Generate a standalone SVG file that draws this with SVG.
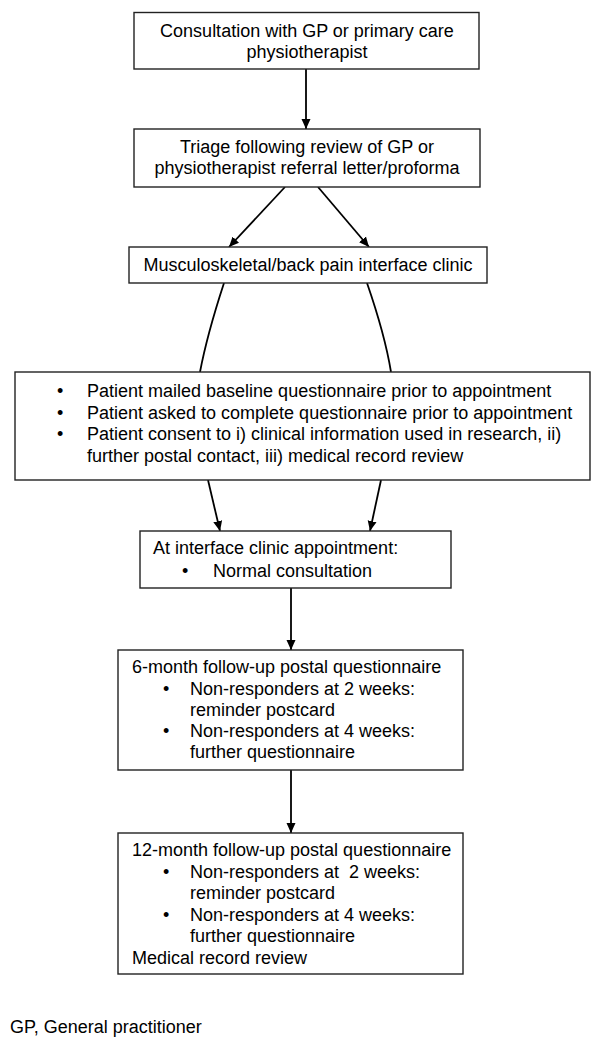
<svg xmlns="http://www.w3.org/2000/svg" width="600" height="1046" viewBox="0 0 600 1046">
<defs>
<marker id="ah" viewBox="0 0 10 10" refX="10" refY="5" markerWidth="10" markerHeight="10" markerUnits="userSpaceOnUse" orient="auto">
<path d="M0,0.5 L10,5 L0,9.5 Z" fill="#000"/>
</marker>
<style>
.box{fill:#fff;stroke:#222;stroke-width:1.4}
.t{font-family:"Liberation Sans",Arial,sans-serif;font-size:18px;fill:#000}
.c{text-anchor:middle}
.ln{fill:none;stroke:#000;stroke-width:1.8}
.arr{fill:none;stroke:#000;stroke-width:1.8;marker-end:url(#ah)}
</style>
</defs>
<rect width="600" height="1046" fill="#fff"/>
<g id="connectors">
<line class="arr" x1="306" y1="69" x2="306" y2="129"/>
<line class="arr" x1="285" y1="187" x2="229" y2="247"/>
<line class="arr" x1="318" y1="187" x2="369" y2="247"/>
<path class="ln" d="M224,283 Q207,335 200,372"/>
<path class="ln" d="M367,283 Q385,335 391,372"/>
<line class="arr" x1="208" y1="480" x2="220" y2="531"/>
<line class="arr" x1="381" y1="480" x2="370" y2="531"/>
<line class="arr" x1="291" y1="588" x2="291" y2="650"/>
<line class="arr" x1="291" y1="770" x2="291" y2="833"/>
</g>
<g id="n1">
<rect class="box" x="134" y="12.5" width="345" height="56.5"/>
<text class="t c" x="307" y="37">Consultation with GP or primary care</text>
<text class="t c" x="307" y="58">physiotherapist</text>
</g>
<g id="n2">
<rect class="box" x="134" y="129" width="346" height="58"/>
<text class="t c" x="307" y="153">Triage following review of GP or</text>
<text class="t c" x="307" y="174">physiotherapist referral letter/proforma</text>
</g>
<g id="n3">
<rect class="box" x="129" y="247" width="358" height="36"/>
<text class="t c" x="308" y="271">Musculoskeletal/back pain interface clinic</text>
</g>
<g id="n4">
<rect class="box" x="15" y="372" width="575" height="108"/>
<text class="t" x="57" y="397">•</text>
<text class="t" x="87" y="397">Patient mailed baseline questionnaire prior to appointment</text>
<text class="t" x="57" y="418.5">•</text>
<text class="t" x="87" y="418.5">Patient asked to complete questionnaire prior to appointment</text>
<text class="t" x="57" y="440">•</text>
<text class="t" x="87" y="440">Patient consent to i) clinical information used in research, ii)</text>
<text class="t" x="87" y="461.5">further postal contact, iii) medical record review</text>
</g>
<g id="n5">
<rect class="box" x="140" y="531" width="311" height="57"/>
<text class="t" x="153" y="554">At interface clinic appointment:</text>
<text class="t" x="182" y="577">•</text>
<text class="t" x="213" y="577">Normal consultation</text>
</g>
<g id="n6">
<rect class="box" x="118" y="650" width="345" height="120"/>
<text class="t" x="132" y="673">6-month follow-up postal questionnaire</text>
<text class="t" x="163" y="694.5">•</text>
<text class="t" x="190" y="694.5">Non-responders at 2 weeks:</text>
<text class="t" x="190" y="715.5">reminder postcard</text>
<text class="t" x="163" y="737">•</text>
<text class="t" x="190" y="737">Non-responders at 4 weeks:</text>
<text class="t" x="190" y="758">further questionnaire</text>
</g>
<g id="n7">
<rect class="box" x="118" y="833" width="345" height="141"/>
<text class="t" x="132" y="856">12-month follow-up postal questionnaire</text>
<text class="t" x="163" y="878">•</text>
<text class="t" x="190" y="878" xml:space="preserve">Non-responders at  2 weeks:</text>
<text class="t" x="190" y="899">reminder postcard</text>
<text class="t" x="163" y="921">•</text>
<text class="t" x="190" y="921">Non-responders at 4 weeks:</text>
<text class="t" x="190" y="942">further questionnaire</text>
<text class="t" x="132" y="964">Medical record review</text>
</g>
<g id="footer">
<text class="t" x="10" y="1033">GP, General practitioner</text>
</g>
</svg>
